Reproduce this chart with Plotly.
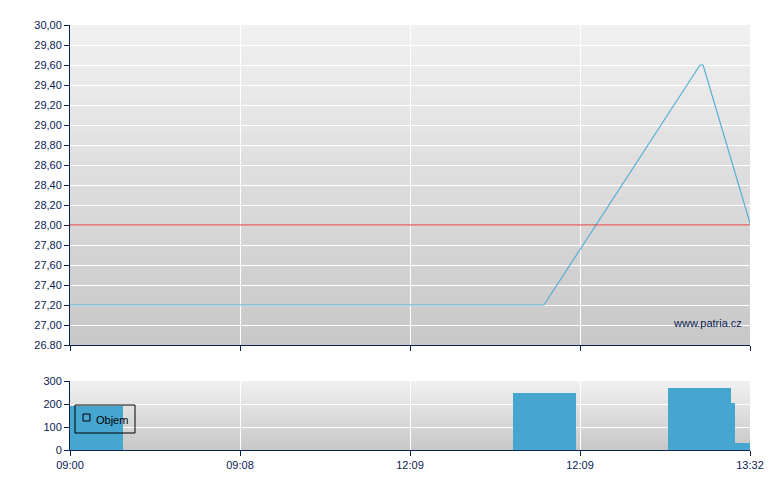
import plotly.graph_objects as go

# ---- data ----
price_x = [0.0, 2.788, 3.706, 3.724, 4.0]
price_y = [27.20, 27.20, 29.60, 29.60, 28.02]
prev_close = 28.00

vol_start = [0.0, 2.606, 3.520, 3.887, 3.912]
vol_end = [0.312, 2.976, 3.887, 3.912, 4.0]
vol_values = [190, 250, 270, 205, 30]

x_tickvals = [0, 1, 2, 3, 4]
x_ticktext = ["09:00", "09:08", "12:09", "12:09", "13:32"]

price_tickvals = [26.8, 27.0, 27.2, 27.4, 27.6, 27.8, 28.0, 28.2, 28.4, 28.6,
                  28.8, 29.0, 29.2, 29.4, 29.6, 29.8, 30.0]
price_ticktext = ["26.80", "27,00", "27,20", "27,40", "27,60", "27,80", "28,00",
                  "28,20", "28,40", "28,60", "28,80", "29,00", "29,20", "29,40",
                  "29,60", "29,80", "30,00"]
vol_tickvals = [0, 100, 200, 300]

# ---- styles ----
NAVY = "#0b2152"
LINE_BLUE = "#5aaed2"
BAR_BLUE = "#46a6cf"
FONT = dict(family="Liberation Sans, Arial, sans-serif", size=11, color=NAVY)

fig = go.Figure()

fig.add_trace(go.Scatter(
    x=price_x, y=price_y, mode="lines",
    line=dict(color=LINE_BLUE, width=1.2),
    xaxis="x", yaxis="y", showlegend=False, hoverinfo="skip"))

centers = [(a + b) / 2 for a, b in zip(vol_start, vol_end)]
widths = [b - a for a, b in zip(vol_start, vol_end)]
fig.add_trace(go.Bar(
    x=centers, y=vol_values, width=widths,
    marker=dict(color=BAR_BLUE, line=dict(width=0)),
    xaxis="x2", yaxis="y2", showlegend=False, hoverinfo="skip"))

# gradient backgrounds (overlapping bands to avoid seams)
shapes = []
def gradient(xref, yref, top, bottom, n=30):
    for i in range(n):
        t = i / (n - 1)
        c = [round(top[k] + (bottom[k] - top[k]) * t) for k in range(3)]
        y1 = 1 - i / n
        y0 = 0 if i == n - 1 else 1 - (i + 1) / n - 0.02
        shapes.append(dict(
            type="rect", xref=xref, yref=yref, layer="below",
            x0=0, x1=1, y0=y0, y1=y1,
            fillcolor="rgb(%d,%d,%d)" % tuple(c), line=dict(width=0)))

gradient("x domain", "y domain", (240, 240, 240), (200, 200, 200))
gradient("x2 domain", "y2 domain", (240, 240, 240), (200, 200, 200))

shapes.append(dict(type="line", xref="x domain", yref="y", x0=0, x1=1,
                   y0=prev_close, y1=prev_close, layer="above",
                   line=dict(color="#d83030", width=1)))

# legend box imitation
lx = lambda px: (px - 70) / 680
ly = lambda py: (450 - py) / 425
shapes.append(dict(type="rect", xref="paper", yref="paper", layer="above",
                   x0=lx(75), x1=lx(135), y0=ly(433), y1=ly(405),
                   line=dict(color="black", width=1), fillcolor="rgba(0,0,0,0)"))
shapes.append(dict(type="rect", xref="paper", yref="paper", layer="above",
                   x0=lx(83), x1=lx(90), y0=ly(421), y1=ly(414),
                   line=dict(color="black", width=1), fillcolor="rgba(0,0,0,0)"))

annotations = [
    dict(text="Objem", xref="paper", yref="paper", x=lx(94), y=ly(420),
         xanchor="left", yanchor="middle", showarrow=False,
         font=dict(family=FONT["family"], size=11, color="black")),
    dict(text="www.patria.cz", xref="paper", yref="paper", x=lx(744), y=ly(323),
         xanchor="right", yanchor="middle", showarrow=False,
         font=dict(family=FONT["family"], size=11, color=NAVY)),
]

axis_common = dict(showline=True, linecolor=NAVY, linewidth=1,
                   ticks="outside", tickcolor=NAVY, ticklen=5,
                   gridcolor="white", gridwidth=1, zeroline=False,
                   tickfont=FONT)

fig.update_layout(
    width=780, height=490,
    margin=dict(l=62, r=38, t=17, b=48),
    paper_bgcolor="white", plot_bgcolor="rgba(0,0,0,0)",
    showlegend=False,
    shapes=shapes, annotations=annotations,
    xaxis=dict(domain=[0, 1], anchor="y", range=[0, 4],
               tickvals=x_tickvals, ticktext=x_ticktext, showticklabels=False,
               **axis_common),
    yaxis=dict(domain=[ly(345), 1], anchor="x", range=[26.8, 30.0],
               tickvals=price_tickvals, ticktext=price_ticktext,
               **axis_common),
    xaxis2=dict(domain=[0, 1], anchor="y2", range=[0, 4],
                tickvals=x_tickvals, ticktext=x_ticktext,
                **axis_common),
    yaxis2=dict(domain=[0, ly(381)], anchor="x2", range=[0, 300],
                tickvals=vol_tickvals, **axis_common),
    bargap=0,
)

fig.write_html("out.html")
